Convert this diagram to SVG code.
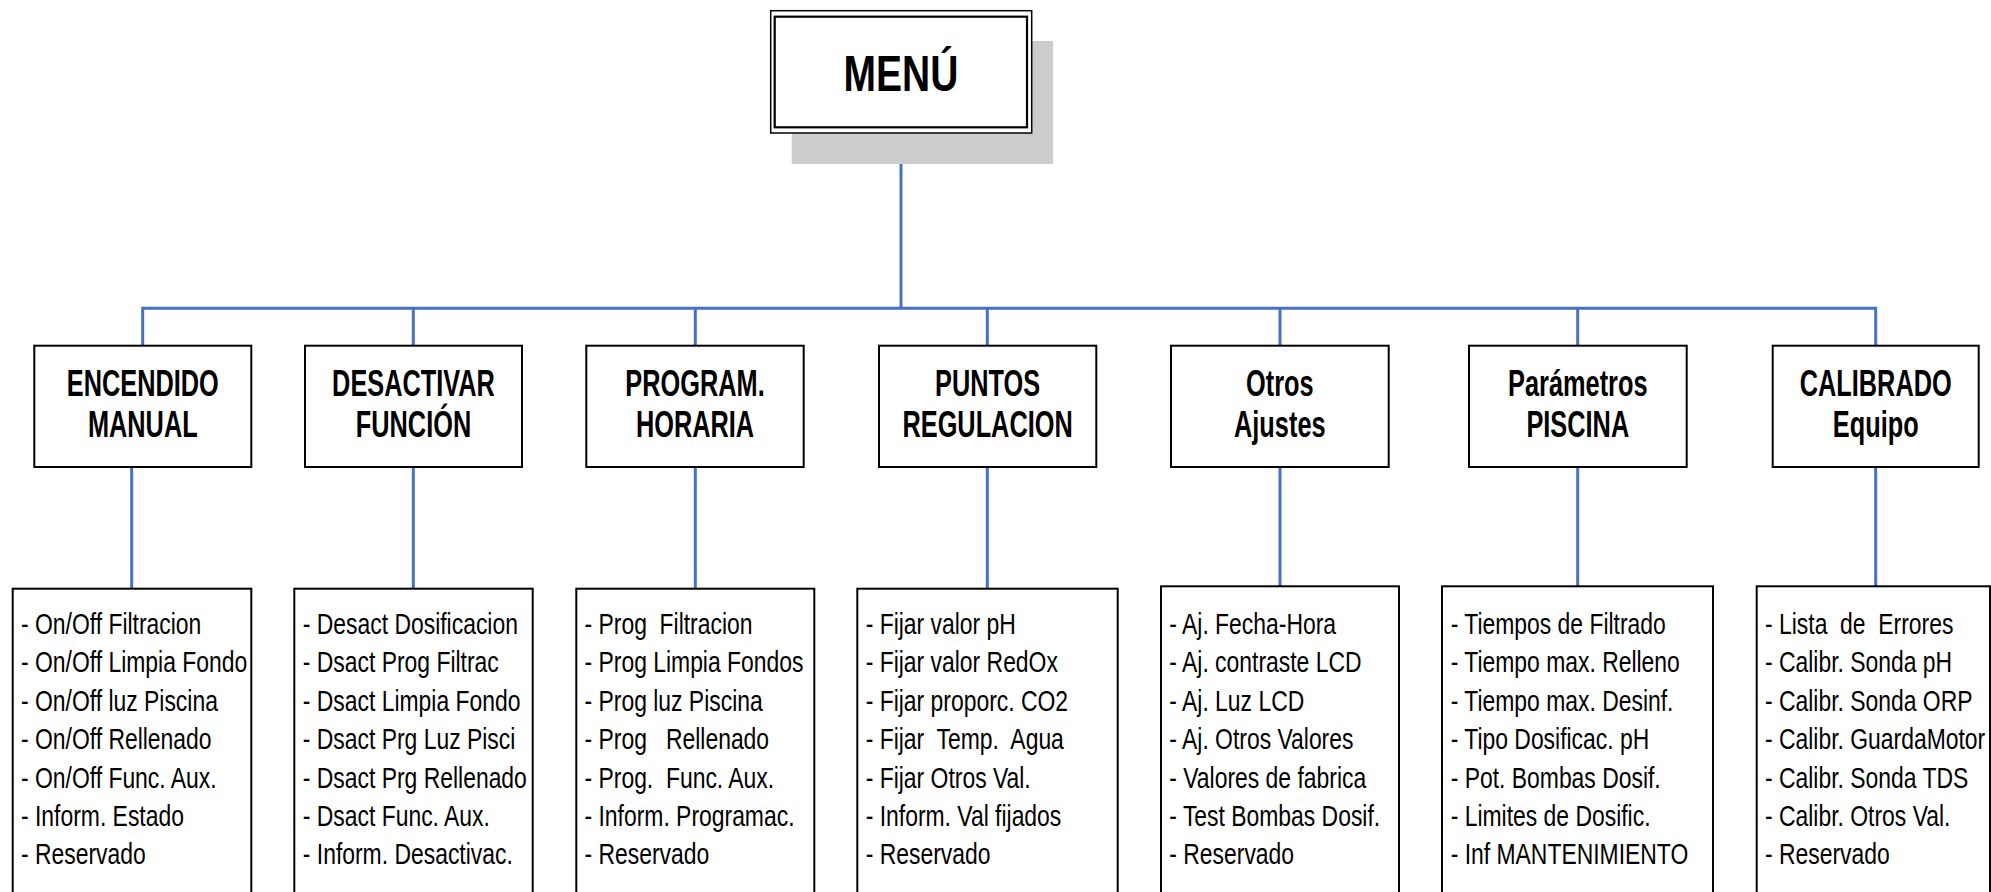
<svg xmlns="http://www.w3.org/2000/svg" width="1991" height="892" viewBox="0 0 1991 892">
<style>
.bg{fill:#ffffff}
.box{fill:#ffffff;stroke:#000000;stroke-width:2}
.conn{fill:none;stroke:#4472C4;stroke-width:3;stroke-linejoin:miter;stroke-linecap:butt}
.t2{font-family:"Liberation Sans",Arial,sans-serif;font-weight:bold;font-size:37px;fill:#000;text-anchor:middle}
.t3{font-family:"Liberation Sans",Arial,sans-serif;font-size:29px;fill:#000;white-space:pre}
.tm{font-family:"Liberation Sans",Arial,sans-serif;font-weight:bold;font-size:50px;fill:#000;text-anchor:middle}
</style>
<rect class="bg" x="0" y="0" width="1991" height="892"/>
<g id="connectors">
<path class="conn" d="M901,133 V308.3"/>
<path class="conn" d="M142.7,345.7 V308.3 H1875.7 V345.7"/>
<path class="conn" d="M413.3,308.3 V345.7 M695.3,308.3 V345.7 M987.3,308.3 V345.7 M1280,308.3 V345.7 M1577.7,308.3 V345.7"/>
<path class="conn" d="M131.7,467 V588.7 M413.3,467 V588.7 M695.3,467 V588.7 M987.3,467 V588.7 M1280,467 V586.3 M1577.7,467 V586.3 M1875.7,467 V586.3"/>
</g>
<g id="menu">
<rect x="791.7" y="41" width="261.3" height="123" fill="#cccccc"/>
<rect x="770.7" y="10.7" width="261" height="122.3" fill="#ffffff" stroke="#000" stroke-width="1.5"/>
<rect x="774.7" y="16.7" width="252.3" height="110.6" fill="none" stroke="#000" stroke-width="2.2"/>
<g transform="translate(901,0) scale(0.78,1)"><text class="tm" x="0" y="90.7">MENÚ</text></g>
</g>
<g id="encendido">
<rect class="box" x="34.3" y="345.7" width="217" height="121.3"/>
<g transform="translate(142.8,0) scale(0.685,1)"><text class="t2" x="0" y="395.7">ENCENDIDO</text><text class="t2" x="0" y="437.3">MANUAL</text></g>
</g>
<g id="desactivar">
<rect class="box" x="305" y="345.7" width="217" height="121.3"/>
<g transform="translate(413.5,0) scale(0.685,1)"><text class="t2" x="0" y="395.7">DESACTIVAR</text><text class="t2" x="0" y="437.3">FUNCIÓN</text></g>
</g>
<g id="program">
<rect class="box" x="586.3" y="345.7" width="217.4" height="121.3"/>
<g transform="translate(695,0) scale(0.685,1)"><text class="t2" x="0" y="395.7">PROGRAM.</text><text class="t2" x="0" y="437.3">HORARIA</text></g>
</g>
<g id="puntos">
<rect class="box" x="879" y="345.7" width="217.3" height="121.3"/>
<g transform="translate(987.6,0) scale(0.685,1)"><text class="t2" x="0" y="395.7">PUNTOS</text><text class="t2" x="0" y="437.3">REGULACION</text></g>
</g>
<g id="otros">
<rect class="box" x="1171" y="345.7" width="217.7" height="121.3"/>
<g transform="translate(1279.8,0) scale(0.685,1)"><text class="t2" x="0" y="395.7">Otros</text><text class="t2" x="0" y="437.3">Ajustes</text></g>
</g>
<g id="parametros">
<rect class="box" x="1469" y="345.7" width="217.7" height="121.3"/>
<g transform="translate(1577.8,0) scale(0.685,1)"><text class="t2" x="0" y="395.7">Parámetros</text><text class="t2" x="0" y="437.3">PISCINA</text></g>
</g>
<g id="calibrado">
<rect class="box" x="1772.7" y="345.7" width="206" height="121.3"/>
<g transform="translate(1875.7,0) scale(0.685,1)"><text class="t2" x="0" y="395.7">CALIBRADO</text><text class="t2" x="0" y="437.3">Equipo</text></g>
</g>
<g id="list-encendido">
<rect class="box" x="12.7" y="588.7" width="238.6" height="320"/>
<g transform="translate(21,0) scale(0.79,1)">
<text class="t3" xml:space="preserve" x="0" y="634">- On/Off Filtracion</text>
<text class="t3" xml:space="preserve" x="0" y="672.4">- On/Off Limpia Fondo</text>
<text class="t3" xml:space="preserve" x="0" y="710.8">- On/Off luz Piscina</text>
<text class="t3" xml:space="preserve" x="0" y="749.2">- On/Off Rellenado</text>
<text class="t3" xml:space="preserve" x="0" y="787.6">- On/Off Func. Aux.</text>
<text class="t3" xml:space="preserve" x="0" y="826">- Inform. Estado</text>
<text class="t3" xml:space="preserve" x="0" y="864.4">- Reservado</text>
</g>
</g>
<g id="list-desactivar">
<rect class="box" x="294.3" y="588.7" width="238.4" height="320"/>
<g transform="translate(302.8,0) scale(0.79,1)">
<text class="t3" xml:space="preserve" x="0" y="634">- Desact Dosificacion</text>
<text class="t3" xml:space="preserve" x="0" y="672.4">- Dsact Prog Filtrac</text>
<text class="t3" xml:space="preserve" x="0" y="710.8">- Dsact Limpia Fondo</text>
<text class="t3" xml:space="preserve" x="0" y="749.2">- Dsact Prg Luz Pisci</text>
<text class="t3" xml:space="preserve" x="0" y="787.6">- Dsact Prg Rellenado</text>
<text class="t3" xml:space="preserve" x="0" y="826">- Dsact Func. Aux.</text>
<text class="t3" xml:space="preserve" x="0" y="864.4">- Inform. Desactivac.</text>
</g>
</g>
<g id="list-program">
<rect class="box" x="576.3" y="588.7" width="238" height="320"/>
<g transform="translate(584.5,0) scale(0.79,1)">
<text class="t3" xml:space="preserve" x="0" y="634">- Prog  Filtracion</text>
<text class="t3" xml:space="preserve" x="0" y="672.4">- Prog Limpia Fondos</text>
<text class="t3" xml:space="preserve" x="0" y="710.8">- Prog luz Piscina</text>
<text class="t3" xml:space="preserve" x="0" y="749.2">- Prog   Rellenado</text>
<text class="t3" xml:space="preserve" x="0" y="787.6">- Prog.  Func. Aux.</text>
<text class="t3" xml:space="preserve" x="0" y="826">- Inform. Programac.</text>
<text class="t3" xml:space="preserve" x="0" y="864.4">- Reservado</text>
</g>
</g>
<g id="list-puntos">
<rect class="box" x="857.3" y="588.7" width="260.4" height="320"/>
<g transform="translate(865.7,0) scale(0.79,1)">
<text class="t3" xml:space="preserve" x="0" y="634">- Fijar valor pH</text>
<text class="t3" xml:space="preserve" x="0" y="672.4">- Fijar valor RedOx</text>
<text class="t3" xml:space="preserve" x="0" y="710.8">- Fijar proporc. CO2</text>
<text class="t3" xml:space="preserve" x="0" y="749.2">- Fijar  Temp.  Agua</text>
<text class="t3" xml:space="preserve" x="0" y="787.6">- Fijar Otros Val.</text>
<text class="t3" xml:space="preserve" x="0" y="826">- Inform. Val fijados</text>
<text class="t3" xml:space="preserve" x="0" y="864.4">- Reservado</text>
</g>
</g>
<g id="list-otros">
<rect class="box" x="1161" y="586.3" width="238" height="320"/>
<g transform="translate(1169.3,0) scale(0.79,1)">
<text class="t3" xml:space="preserve" x="0" y="634">- Aj. Fecha-Hora</text>
<text class="t3" xml:space="preserve" x="0" y="672.4">- Aj. contraste LCD</text>
<text class="t3" xml:space="preserve" x="0" y="710.8">- Aj. Luz LCD</text>
<text class="t3" xml:space="preserve" x="0" y="749.2">- Aj. Otros Valores</text>
<text class="t3" xml:space="preserve" x="0" y="787.6">- Valores de fabrica</text>
<text class="t3" xml:space="preserve" x="0" y="826">- Test Bombas Dosif.</text>
<text class="t3" xml:space="preserve" x="0" y="864.4">- Reservado</text>
</g>
</g>
<g id="list-parametros">
<rect class="box" x="1442" y="586.3" width="271" height="320"/>
<g transform="translate(1450.7,0) scale(0.79,1)">
<text class="t3" xml:space="preserve" x="0" y="634">- Tiempos de Filtrado</text>
<text class="t3" xml:space="preserve" x="0" y="672.4">- Tiempo max. Relleno</text>
<text class="t3" xml:space="preserve" x="0" y="710.8">- Tiempo max. Desinf.</text>
<text class="t3" xml:space="preserve" x="0" y="749.2">- Tipo Dosificac. pH</text>
<text class="t3" xml:space="preserve" x="0" y="787.6">- Pot. Bombas Dosif.</text>
<text class="t3" xml:space="preserve" x="0" y="826">- Limites de Dosific.</text>
<text class="t3" xml:space="preserve" x="0" y="864.4">- Inf MANTENIMIENTO</text>
</g>
</g>
<g id="list-calibrado">
<rect class="box" x="1756.7" y="586.3" width="233.3" height="320"/>
<g transform="translate(1765,0) scale(0.79,1)">
<text class="t3" xml:space="preserve" x="0" y="634">- Lista  de  Errores</text>
<text class="t3" xml:space="preserve" x="0" y="672.4">- Calibr. Sonda pH</text>
<text class="t3" xml:space="preserve" x="0" y="710.8">- Calibr. Sonda ORP</text>
<text class="t3" xml:space="preserve" x="0" y="749.2">- Calibr. GuardaMotor</text>
<text class="t3" xml:space="preserve" x="0" y="787.6">- Calibr. Sonda TDS</text>
<text class="t3" xml:space="preserve" x="0" y="826">- Calibr. Otros Val.</text>
<text class="t3" xml:space="preserve" x="0" y="864.4">- Reservado</text>
</g>
</g>
</svg>
